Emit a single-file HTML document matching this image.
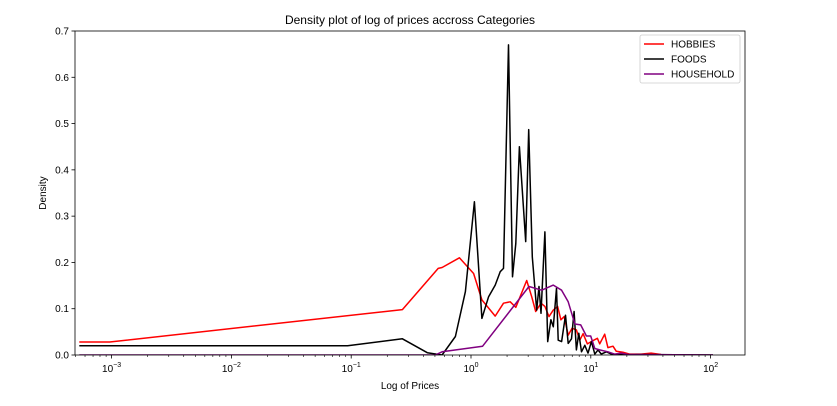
<!DOCTYPE html>
<html><head><meta charset="utf-8"><style>
body{margin:0;background:#fff;}
svg{display:block;font-family:"Liberation Sans",sans-serif;}
</style></head><body>
<svg id="chart" width="837" height="406"></svg>
<script>
const xTickExp=[-3,-2,-1,0,1,2];
const yTicks=[0,0.1,0.2,0.3,0.4,0.5,0.6,0.7];
const hobbiesLogX=[-3.27,-3.015,-0.573,-0.274,-0.241,-0.097,0.022,0.091,0.202,0.271,0.327,0.374,0.465,0.507,0.540,0.584,0.617,0.651,0.687,0.723,0.750,0.778,0.811,0.844,0.880,0.908,0.936,0.972,1.011,1.055,1.074,1.116,1.143,1.185,1.213,1.268,1.323,1.420,1.503,1.586];
const hobbiesVal=[0.028,0.028,0.098,0.187,0.189,0.21,0.176,0.119,0.084,0.112,0.115,0.103,0.161,0.126,0.094,0.112,0.105,0.083,0.097,0.105,0.076,0.083,0.043,0.058,0.054,0.032,0.046,0.024,0.03,0.036,0.024,0.045,0.016,0.019,0.008,0.006,0.002,0.002,0.004,0.001];
const foodsLogX=[-3.27,-1.03,-0.573,-0.365,-0.241,-0.130,-0.047,0.028,0.091,0.147,0.202,0.244,0.271,0.313,0.346,0.374,0.404,0.457,0.482,0.512,0.548,0.568,0.584,0.617,0.640,0.667,0.687,0.714,0.728,0.756,0.789,0.811,0.839,0.861,0.880,0.900,0.922,0.950,0.977,1.005,1.033,1.060,1.088,1.130,1.171,1.282,2.02];
const foodsVal=[0.02,0.02,0.035,0.005,0.0,0.040,0.137,0.331,0.079,0.126,0.151,0.18,0.187,0.670,0.169,0.241,0.45,0.245,0.487,0.212,0.097,0.148,0.09,0.266,0.029,0.076,0.061,0.144,0.032,0.029,0.086,0.025,0.035,0.094,0.011,0.047,0.007,0.021,0.004,0.029,0.002,0.011,0.002,0.007,0.002,0.001,0.0];
const householdLogX=[-3.27,-0.299,-0.241,0.097,0.484,0.590,0.687,0.756,0.811,0.867,0.916,0.963,0.999,1.033,1.074,1.143,1.199,1.254,1.310,2.02];
const householdVal=[0.0,0.0,0.007,0.019,0.148,0.140,0.151,0.140,0.115,0.067,0.065,0.041,0.041,0.014,0.011,0.007,0.002,0.004,0.001,0.0];

const NS="http://www.w3.org/2000/svg";
const svg=document.getElementById('chart');
const L=75,R=745,T=31,B=355;
const xs=l=>471+119.8*l;
const ys=v=>B-(v/0.7)*(B-T);
function mk(tag,attrs,parent){const e=document.createElementNS(NS,tag);for(const k in attrs)e.setAttribute(k,attrs[k]);(parent||svg).appendChild(e);return e;}

const clip=mk('clipPath',{id:'pc'});mk('rect',{x:L,y:T,width:R-L,height:B-T},clip);

for(let e=-4;e<=2;e++){for(let m=2;m<=9;m++){const x=xs(e+Math.log10(m));if(x<L||x>R)continue;
const t=mk('line',{x1:x,x2:x,y1:B,y2:B+2,stroke:'#000','stroke-width':0.6});
}}
xTickExp.forEach(e=>{const x=xs(e);
const t=mk('line',{x1:x,x2:x,y1:B,y2:B+3.5,stroke:'#000','stroke-width':0.8});

const tx=mk('text',{x:x,y:B+17,'text-anchor':'middle','font-size':10});

tx.appendChild(document.createTextNode('10'));
const sp=mk('tspan',{dy:-5,'font-size':7},tx);sp.textContent=String(e).replace('-','\u2212');});
yTicks.forEach(v=>{const y=ys(v);
const t=mk('line',{x1:L-3.5,x2:L,y1:y,y2:y,stroke:'#000','stroke-width':0.8});

const tx=mk('text',{x:L-6,y:y+3.5,'text-anchor':'end','font-size':10});

tx.textContent=v.toFixed(1);});

function series(lx,vals,color,name){
const d=lx.map((l,i)=>(i?'L':'M')+xs(l).toFixed(1)+','+ys(vals[i]).toFixed(1)).join('');
const p=mk('path',{d:d,fill:'none',stroke:color,'stroke-width':1.5,'clip-path':'url(#pc)','stroke-linejoin':'round'});
}
series(hobbiesLogX,hobbiesVal,'#ff0000','hobbies-line');
series(foodsLogX,foodsVal,'#000000','foods-line');
series(householdLogX,householdVal,'#800080','household-line');

const fr=mk('rect',{x:L,y:T,width:R-L,height:B-T,fill:'none',stroke:'#000','stroke-width':0.8});


const title=mk('text',{x:410,y:24,'text-anchor':'middle','font-size':12});

title.textContent='Density plot of log of prices accross Categories';
const xl=mk('text',{x:410,y:389,'text-anchor':'middle','font-size':10});

xl.textContent='Log of Prices';
const yl=mk('text',{x:46,y:193,'text-anchor':'middle','font-size':10,transform:'rotate(-90 46 193)'});

yl.textContent='Density';

const lg=mk('g',{});

mk('rect',{x:640,y:35,width:100,height:48,fill:'#fff',stroke:'#ccc','stroke-width':0.8,rx:2},lg);
[['HOBBIES','#ff0000'],['FOODS','#000000'],['HOUSEHOLD','#800080']].forEach((it,i)=>{
const y=44+i*15;
const ln=mk('line',{x1:644,x2:664,y1:y,y2:y,stroke:it[1],'stroke-width':1.5},lg);

const t=mk('text',{x:671,y:y+3.5,'font-size':10},lg);

t.textContent=it[0];});
</script>
</body></html>
